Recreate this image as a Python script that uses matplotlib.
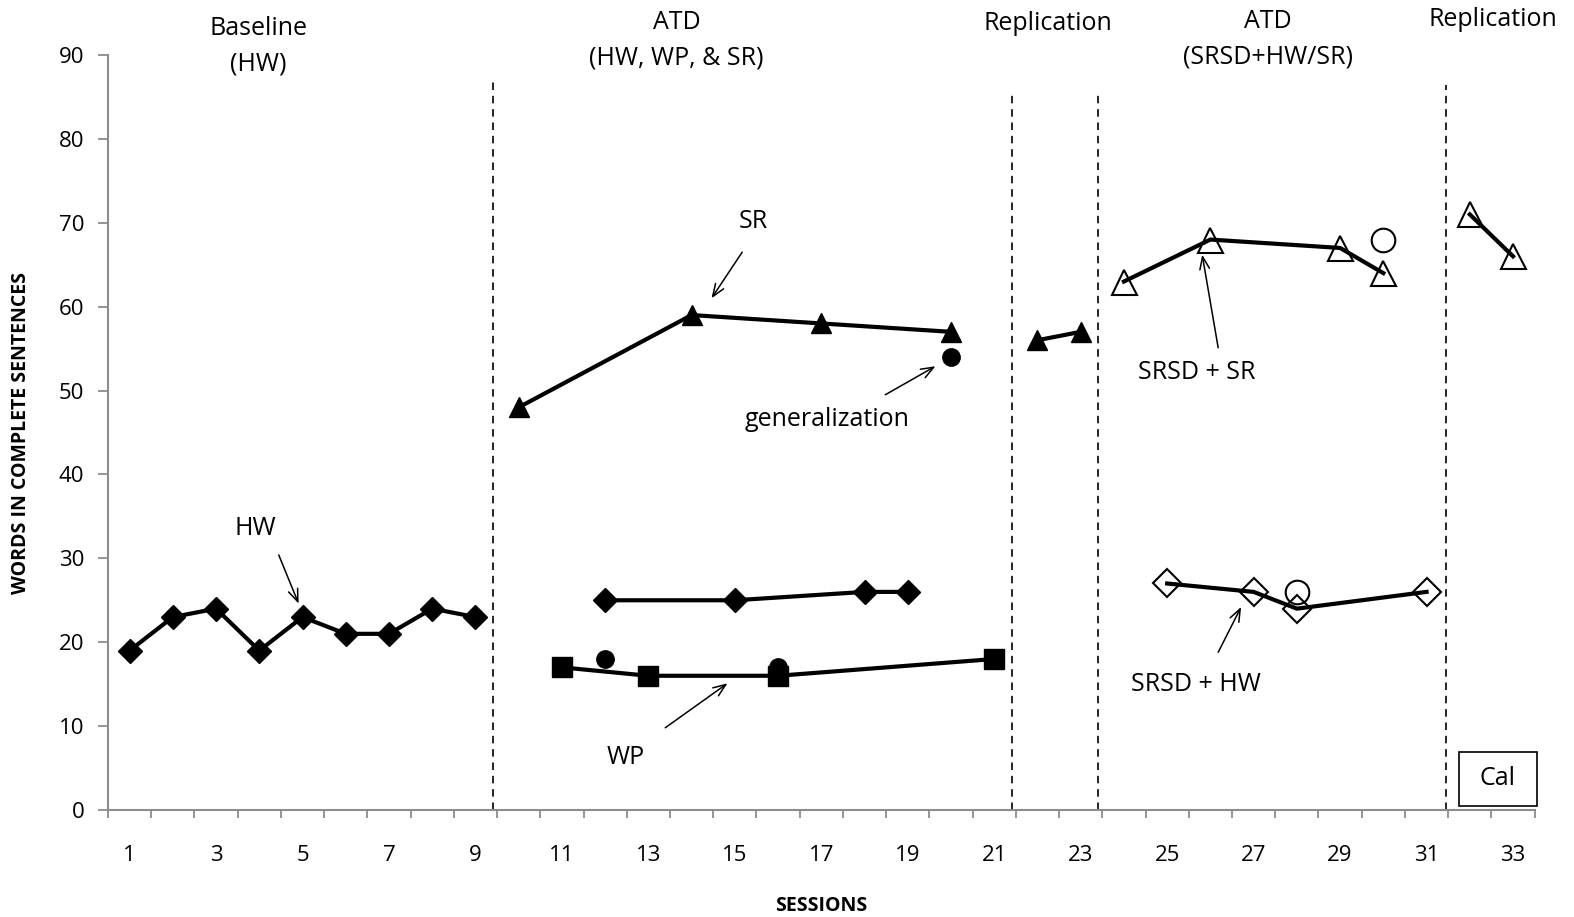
import matplotlib
matplotlib.use("Agg")
import matplotlib.pyplot as plt
from matplotlib.patches import Rectangle
import numpy as np

plt.rcParams['font.family'] = ['Open Sans', 'DejaVu Sans']

# ---- data (sessions / words in complete sentences) ----
base_hw_x = [1, 2, 3, 4, 5, 6, 7, 8, 9]
base_hw_y = [19, 23, 24, 19, 23, 21, 21, 24, 23]

atd_sr_x = [10, 14, 17, 20]
atd_sr_y = [48, 59, 58, 57]
atd_hw_x = [12, 15, 18, 19]
atd_hw_y = [25, 25, 26, 26]
atd_wp_x = [11, 13, 16, 21]
atd_wp_y = [17, 16, 16, 18]
atd_gen_x = [12, 16, 20]
atd_gen_y = [18, 17, 54]

rep1_sr_x = [22, 23]
rep1_sr_y = [56, 57]

srsd_sr_x = [24, 26, 29, 30]
srsd_sr_y = [63, 68, 67, 64]
srsd_hw_x = [25, 27, 28, 31]
srsd_hw_y = [27, 26, 24, 26]
srsd_gen_x = [28, 30]
srsd_gen_y = [26, 68]

rep2_sr_x = [32, 33]
rep2_sr_y = [71, 66]

phase_lines = [9.4, 21.4, 23.4, 31.45]
phase_line_tops = [87.0, 85.5, 85.2, 86.4]
phase_names = ["Baseline\n(HW)", "ATD\n(HW, WP, & SR)", "Replication",
               "ATD\n(SRSD+HW/SR)", "Replication"]
phase_name_x = [3.98, 13.65, 22.25, 27.33, 32.54]
phase_name_y = [91.0, 91.8, 93.7, 91.9, 94.2]

fig = plt.figure(figsize=(15.74, 9.17), dpi=100)
ax = fig.add_axes([0.0686, 0.1167, 0.9064, 0.8233])

lw = 3.0
txt = 18
# filled series
ax.plot(base_hw_x, base_hw_y, color='black', lw=lw, marker='D', ms=12, mfc='black', mec='black')
ax.plot(atd_sr_x, atd_sr_y, color='black', lw=lw, marker='^', ms=14.5, mfc='black', mec='black')
ax.plot(atd_hw_x, atd_hw_y, color='black', lw=lw, marker='D', ms=12, mfc='black', mec='black')
ax.plot(atd_wp_x, atd_wp_y, color='black', lw=lw, marker='s', ms=14.5, mfc='black', mec='black')
ax.plot(atd_gen_x, atd_gen_y, ls='none', marker='o', ms=12.5, mfc='black', mec='black')
ax.plot(rep1_sr_x, rep1_sr_y, color='black', lw=lw, marker='^', ms=14.5, mfc='black', mec='black')

# open series
ax.plot(srsd_sr_x, srsd_sr_y, color='black', lw=lw, marker='^', ms=18, mfc='none', mec='black', mew=1.5)
ax.plot(srsd_hw_x, srsd_hw_y, color='black', lw=lw, marker='D', ms=14, mfc='none', mec='black', mew=1.5)
ax.plot(srsd_gen_x, srsd_gen_y, ls='none', marker='o', ms=17, mfc='none', mec='black', mew=1.5)
ax.plot(rep2_sr_x, rep2_sr_y, color='black', lw=lw, marker='^', ms=18, mfc='none', mec='black', mew=1.5)

# phase change lines
for xp, top in zip(phase_lines, phase_line_tops):
    ax.plot([xp, xp], [0, top], color='black', lw=1.2, ls=(0, (4.5, 3.5)), clip_on=False)

for name, xn, yn in zip(phase_names, phase_name_x, phase_name_y):
    ax.text(xn, yn, name, ha='center', va='center', fontsize=txt, linespacing=1.55, clip_on=False)

# annotations
arrow = dict(arrowstyle='->,head_length=0.9,head_width=0.35', color='black', lw=1.1, shrinkA=0, shrinkB=0)
notes = [
    ("SR", (15.43, 70.1), (15.17, 66.5), (14.46, 61.0)),
    ("generalization", (17.14, 46.6), (18.48, 49.5), (19.64, 52.9)),
    ("HW", (3.91, 33.5), (4.45, 30.4), (4.91, 24.6)),
    ("WP", (12.47, 6.2), (13.39, 9.8), (14.83, 15.1)),
    ("SRSD + SR", (25.69, 52.1), (26.18, 55.1), (25.81, 66.2)),
    ("SRSD + HW", (25.67, 15.0), (26.18, 18.8), (26.71, 24.2)),
]
for label, txy, tail, head in notes:
    ax.text(txy[0], txy[1], label, ha='center', va='center', fontsize=txt)
    ax.annotate("", xy=head, xytext=tail, arrowprops=arrow)

# "Cal" box
ax.add_patch(Rectangle((31.75, 0.5), 1.8, 6.4, fill=False, ec='black', lw=1.2, clip_on=False))
ax.text(32.65, 3.8, "Cal", ha='center', va='center', fontsize=txt)

# axes styling
ax.set_xlim(0.5, 33.5)
ax.set_ylim(0, 90)
for s in ['top', 'right']:
    ax.spines[s].set_visible(False)
for s in ['left', 'bottom']:
    ax.spines[s].set_color('#8c8c8c')
    ax.spines[s].set_linewidth(1.5)

ax.set_yticks(np.arange(0, 91, 10))
ax.tick_params(axis='y', direction='out', length=7, width=1.3, color='#8c8c8c', pad=10, labelsize=16)
ax.set_xticks(np.arange(1, 34, 2))
ax.set_xticks(np.arange(0.5, 34, 1), minor=True)
ax.tick_params(axis='x', which='major', length=0, pad=25, labelsize=16)
ax.tick_params(axis='x', which='minor', direction='out', length=6, width=1.3, color='#8c8c8c')

ax.set_xlabel("SESSIONS", fontsize=14, fontweight='bold', labelpad=22)
ax.set_ylabel("WORDS IN COMPLETE SENTENCES", fontsize=14, fontweight='bold', labelpad=20)

fig.savefig("out.png", dpi=100)
